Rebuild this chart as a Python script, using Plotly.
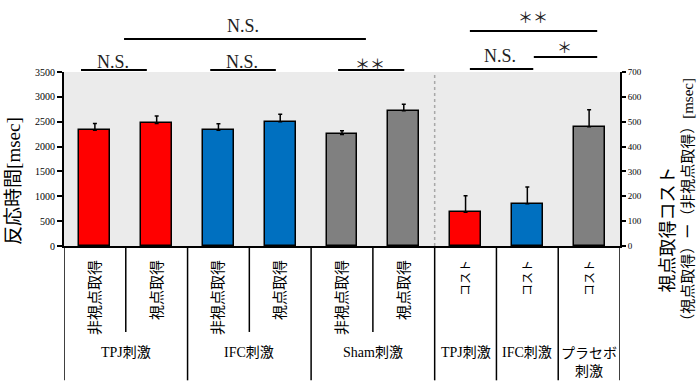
import plotly.graph_objects as go

# ---- data ----
categories = ["非視点取得", "視点取得", "非視点取得", "視点取得", "非視点取得", "視点取得",
              "コスト", "コスト", "コスト"]
rt_values = [2330, 2465, 2330, 2500, 2245, 2720]          # left axis (msec)
rt_errors = [135, 148, 128, 150, 75, 130]
cost_values = [136, 170, 480]                                # right axis (msec)
cost_errors = [66, 67, 68]
rt_colors = ["#ff0000", "#ff0000", "#0070c0", "#0070c0", "#808080", "#808080"]
cost_colors = ["#ff0000", "#0070c0", "#808080"]
group_labels = ["TPJ刺激", "IFC刺激", "Sham刺激", "TPJ刺激", "IFC刺激", "プラセボ<br>刺激"]
group_centers = [0.5, 2.5, 4.5, 6, 7, 8]
left_ticks = list(range(0, 3501, 500))
right_ticks = list(range(0, 701, 100))

FONT = "Liberation Serif, Noto Sans CJK JP, serif"
CJK = "Noto Sans CJK JP, sans-serif"

n_rt = len(rt_values)
x_rt = list(range(n_rt))
x_cost = list(range(n_rt, n_rt + len(cost_values)))

tick_text = [("<span style='font-size:12px'>%s</span>" % c) if c == "コスト" else c
             for c in categories]

fig = go.Figure()
fig.add_trace(go.Bar(
    x=x_rt, y=rt_values, width=0.5,
    marker=dict(color=rt_colors, line=dict(color="black", width=1.5)),
    error_y=dict(type="data", array=rt_errors, arrayminus=[0] * n_rt, symmetric=False,
                 color="black", thickness=1.5, width=2),
    yaxis="y", showlegend=False))
fig.add_trace(go.Bar(
    x=x_cost, y=cost_values, width=0.5,
    marker=dict(color=cost_colors, line=dict(color="black", width=1.5)),
    error_y=dict(type="data", array=cost_errors, arrayminus=[0] * len(cost_values), symmetric=False,
                 color="black", thickness=1.5, width=2),
    yaxis="y2", showlegend=False))

shapes = []
# dotted separator inside plot
shapes.append(dict(type="line", xref="x", yref="paper", x0=5.5, x1=5.5, y0=0, y1=1,
                   line=dict(color="#a8a8a8", width=1.5, dash="dot")))
# divider lines below axis
short_div = [0.5, 2.5, 4.5]
long_div = [-0.5, 1.5, 3.5, 5.5, 6.5, 7.5, 8.5]
for xv in short_div:
    shapes.append(dict(type="line", xref="x", yref="paper", x0=xv, x1=xv, y0=0, y1=-0.494,
                       line=dict(color="black", width=1.5)))
for xv in long_div:
    shapes.append(dict(type="line", xref="x", yref="paper", x0=xv, x1=xv, y0=0, y1=-0.772,
                       line=dict(color="black", width=1.5)))

# significance lines (paper coords)
sig_lines = [
    (0.108, 0.543, 1.190),
    (0.0306, 0.149, 1.011),
    (0.263, 0.381, 1.011),
    (0.493, 0.612, 1.011),
    (0.730, 0.959, 1.236),
    (0.730, 0.844, 1.017),
    (0.845, 0.959, 1.086),
]
for x0, x1, y in sig_lines:
    shapes.append(dict(type="line", xref="paper", yref="paper", x0=x0, x1=x1, y0=y, y1=y,
                       line=dict(color="black", width=2)))

annotations = []
sig_texts = [
    ("N.S.", 0.322, 1.262, 18),
    ("N.S.", 0.088, 1.055, 18),
    ("N.S.", 0.320, 1.055, 18),
    ("＊＊", 0.550, 1.040, 15),
    ("＊＊", 0.844, 1.310, 15),
    ("N.S.", 0.784, 1.090, 18),
    ("＊", 0.901, 1.140, 15),
]
for t, x, y, s in sig_texts:
    annotations.append(dict(text=t, x=x, y=y, xref="paper", yref="paper", showarrow=False,
                            xanchor="center", yanchor="middle",
                            font=dict(family=FONT, size=s, color="#222")))

for t, xc in zip(group_labels, group_centers):
    annotations.append(dict(text=t, x=xc, y=(-0.609 if "<br>" not in t else -0.667),
                            xref="x", yref="paper", showarrow=False,
                            xanchor="center", yanchor="middle",
                            font=dict(family=FONT, size=14, color="black")))

# axis titles
annotations.append(dict(text="反応時間[msec]", x=-0.090, y=0.374, xref="paper", yref="paper",
                        textangle=-90, showarrow=False, xanchor="center", yanchor="middle",
                        font=dict(family=FONT, size=19, color="black")))
annotations.append(dict(text="視点取得コスト", x=1.0880, y=0.095, xref="paper", yref="paper",
                        textangle=-90, showarrow=False, xanchor="center", yanchor="middle",
                        font=dict(family=FONT, size=18, color="black")))
annotations.append(dict(text="（視点取得）ー（非視点取得）[msec]", x=1.122, y=0.247,
                        xref="paper", yref="paper",
                        textangle=-90, showarrow=False, xanchor="center", yanchor="middle",
                        font=dict(family=FONT, size=15, color="black")))

fig.update_layout(
    width=700, height=385,
    margin=dict(l=64, r=80, t=72, b=139, pad=0),
    plot_bgcolor="#ebebeb", paper_bgcolor="white",
    barmode="overlay", bargap=0,
    shapes=shapes, annotations=annotations,
    xaxis=dict(range=[-0.5, 8.5], tickmode="array", tickvals=list(range(len(categories))),
               ticktext=tick_text, tickangle=-90, ticks="", showgrid=False, zeroline=False,
               showline=True, linecolor="black", linewidth=2, ticklabelstandoff=6,
               tickfont=dict(family=CJK, size=15, color="black")),
    yaxis=dict(range=[0, 3500], tickmode="array", tickvals=left_ticks,
               ticks="outside", ticklen=5, tickwidth=1.5, tickcolor="black",
               showline=True, linecolor="black", linewidth=2, showgrid=False, zeroline=False,
               tickfont=dict(family=FONT, size=10, color="black")),
    yaxis2=dict(range=[0, 700], tickmode="array", tickvals=right_ticks, overlaying="y", side="right",
                ticks="outside", ticklen=4, tickwidth=1.5, tickcolor="black",
                showline=True, linecolor="black", linewidth=2, showgrid=False, zeroline=False,
                tickfont=dict(family=FONT, size=9, color="black")),
)

fig.write_html("out.html", config={"displayModeBar": False},
               post_script="document.body.style.margin='0';document.body.style.overflow='hidden';")
